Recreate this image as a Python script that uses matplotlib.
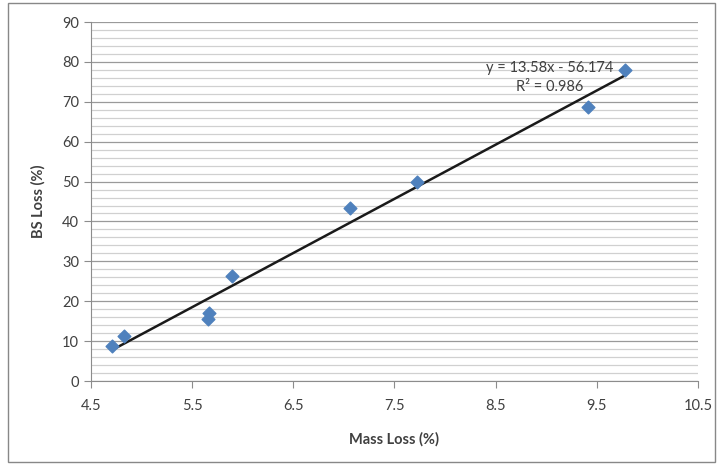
import numpy as np
import matplotlib.pyplot as plt
from matplotlib.ticker import MultipleLocator
from matplotlib.patches import Rectangle

plt.rcParams['font.family'] = ['Lato', 'DejaVu Sans']

mass_loss = [4.71, 4.83, 5.66, 5.67, 5.89, 7.06, 7.72, 9.41, 9.78]
bs_loss = [8.8, 11.3, 15.5, 17.0, 26.3, 43.4, 49.9, 68.7, 77.9]
slope = 13.58
intercept = -56.174
r2 = 0.986

text_color = "#404040"

fig = plt.figure(figsize=(7.2, 4.65), dpi=100)
ax = fig.add_axes([0.1264, 0.1806, 0.843, 0.772])

# outer chart border
fig.patches.append(Rectangle((8 / 720, 3 / 465), 707 / 720, 459 / 465,
                             transform=fig.transFigure, fill=False,
                             edgecolor="#888888", linewidth=1))

ax.set_xlim(4.5, 10.5)
ax.set_ylim(0, 90)
ax.yaxis.set_major_locator(MultipleLocator(10))
ax.yaxis.set_minor_locator(MultipleLocator(2))
ax.set_xticks(np.arange(4.5, 10.6, 1.0))
ax.set_xticklabels([f"{v:.1f}" for v in np.arange(4.5, 10.6, 1.0)])

ax.grid(axis="y", which="major", color="#9a9a9a", linewidth=0.9)
ax.grid(axis="y", which="minor", color="#d0d0d0", linewidth=0.9)
ax.set_axisbelow(True)

for side in ["top", "right"]:
    ax.spines[side].set_visible(False)
for side in ["left", "bottom"]:
    ax.spines[side].set_color("#8c8c8c")

ax.tick_params(axis="both", which="major", direction="out", length=5,
               color="#8c8c8c", labelcolor=text_color, labelsize=10.5)
ax.tick_params(axis="y", which="minor", length=0)
ax.tick_params(axis="x", pad=8)

xs = np.array([min(mass_loss), max(mass_loss)])
ax.plot(xs, slope * xs + intercept, color="#1a1a1a", linewidth=1.8, zorder=3)
ax.scatter(mass_loss, bs_loss, marker="D", s=42, color="#4f81bd", zorder=4)

ax.text(9.03, 78.5, f"y = {slope}x - {abs(intercept)}", ha="center", va="center",
        fontsize=10.5, color=text_color)
ax.text(9.03, 73.7, f"R² = {r2}", ha="center", va="center",
        fontsize=10.5, color=text_color)

ax.set_xlabel("Mass Loss (%)", fontsize=10.5, fontweight="bold", color=text_color, labelpad=14)
ax.set_ylabel("BS Loss (%)", fontsize=10.5, fontweight="bold", color=text_color, labelpad=12)

fig.savefig("out.png", dpi=100)
